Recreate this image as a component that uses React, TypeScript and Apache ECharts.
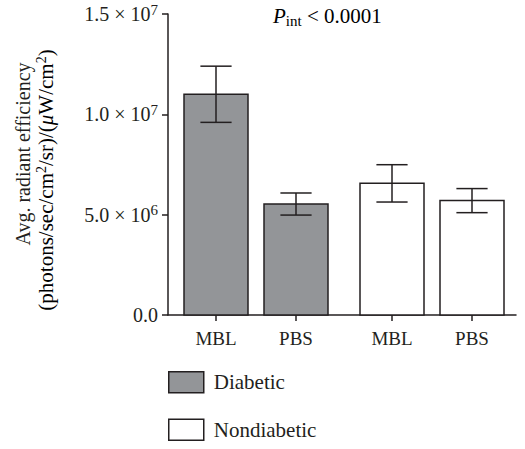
import React, { useEffect, useRef } from "react";
import * as echarts from "echarts";

const categories = ["MBL", "PBS", "MBL", "PBS"];
const groups = ["Diabetic", "Nondiabetic"];
// slot positions on the x axis (gap between the two groups)
const slots = [1, 2, 3.2, 4.2];
const diabeticMeans = [1.1e7, 5.53e6];
const diabeticErrors = [1.4e6, 0.55e6];
const nondiabeticMeans = [6.56e6, 5.7e6];
const nondiabeticErrors = [0.93e6, 0.6e6];
const yTicks = [0, 5e6, 1e7, 1.5e7];

const FONT = "Liberation Serif";
const INK = "#231f20";
const GRAY = "#939598";

function fmtY(v: number): string {
  if (v === 0) return "{a|0.0}";
  const exp = Math.floor(Math.log10(v));
  const mant = (v / Math.pow(10, exp)).toFixed(1);
  return `{a|${mant} × 10}{s|${exp}}`;
}

function makeRender(color: string) {
  return (params: any, api: any) => {
    const x = api.value(0);
    const mean = api.value(1);
    const err = api.value(2);
    const top = api.coord([x, mean]);
    const base = api.coord([x, 0]);
    const w = api.size([0.8, 0])[0];
    const cap = api.size([0.39, 0])[0];
    const hi = api.coord([x, mean + err]);
    const lo = api.coord([x, mean - err]);
    const lineStyle = { stroke: INK, lineWidth: 1.5 };
    return {
      type: "group",
      children: [
        {
          type: "rect",
          shape: { x: top[0] - w / 2, y: top[1], width: w, height: base[1] - top[1] },
          style: { fill: color, stroke: INK, lineWidth: 1.5 },
        },
        { type: "line", shape: { x1: hi[0], y1: hi[1], x2: lo[0], y2: lo[1] }, style: lineStyle },
        { type: "line", shape: { x1: hi[0] - cap / 2, y1: hi[1], x2: hi[0] + cap / 2, y2: hi[1] }, style: lineStyle },
        { type: "line", shape: { x1: lo[0] - cap / 2, y1: lo[1], x2: lo[0] + cap / 2, y2: lo[1] }, style: lineStyle },
      ],
    };
  };
}

export default function App() {
  const ref = useRef<HTMLDivElement>(null);
  useEffect(() => {
    if (!ref.current) return;
    const chart = echarts.init(ref.current, null, { renderer: "svg" });
    const diabeticData = diabeticMeans.map((m, i) => [slots[i], m, diabeticErrors[i]]);
    const nondiabeticData = nondiabeticMeans.map((m, i) => [slots[i + 2], m, nondiabeticErrors[i]]);
    const supRich = {
      a: { fontFamily: FONT, fontSize: 20, color: INK, lineHeight: 24 },
      s: { fontFamily: FONT, fontSize: 15, color: INK, lineHeight: 15, verticalAlign: "top" },
    };
    chart.setOption({
      animation: false,
      backgroundColor: "#ffffff",
      textStyle: { fontFamily: FONT },
      grid: { left: 168, right: 9, top: 14, bottom: 134 },
      xAxis: {
        type: "value",
        min: 0.4,
        max: 4.75,
        splitLine: { show: false },
        axisLine: { show: true, lineStyle: { color: INK, width: 1.5 } },
        axisTick: {
          show: true,
          length: 6,
          customValues: slots,
          lineStyle: { color: INK, width: 1.5 },
        },
        axisLabel: {
          customValues: slots,
          margin: 14,
          fontFamily: FONT,
          fontSize: 19,
          color: INK,
          formatter: (v: number) => {
            const idx = slots.findIndex((s) => Math.abs(s - v) < 1e-6);
            return idx >= 0 ? categories[idx] : "";
          },
        },
      },
      yAxis: {
        type: "value",
        min: 0,
        max: 1.5e7,
        interval: 5e6,
        splitLine: { show: false },
        axisLine: { show: true, lineStyle: { color: INK, width: 1.5 } },
        axisTick: { show: true, length: 6, lineStyle: { color: INK, width: 1.5 } },
        axisLabel: {
          margin: 10,
          formatter: (v: number) => (yTicks.includes(v) ? fmtY(v) : ""),
          rich: supRich,
        },
      },
      legend: {
        show: true,
        orient: "vertical",
        left: 163,
        top: 366,
        itemWidth: 35,
        itemHeight: 21,
        itemGap: 25,
        textStyle: { fontFamily: FONT, fontSize: 21, color: INK, padding: [2, 0, 0, 5] },
        data: [
          { name: groups[0], icon: "rect", itemStyle: { color: GRAY, borderColor: INK, borderWidth: 1.5 } },
          { name: groups[1], icon: "rect", itemStyle: { color: "#ffffff", borderColor: INK, borderWidth: 1.5 } },
        ],
      },
      graphic: [
        {
          type: "text",
          x: 273,
          y: 16,
          style: {
            text: "{p|P}{sub|int}{t| < 0.0001}",
            verticalAlign: "middle",
            rich: {
              p: { fontFamily: FONT, fontSize: 21, fontStyle: "italic", color: INK, lineHeight: 24 },
              sub: { fontFamily: FONT, fontSize: 15, color: INK, lineHeight: 15, verticalAlign: "bottom" },
              t: { fontFamily: FONT, fontSize: 21, color: INK, lineHeight: 24 },
            },
          },
        },
        {
          type: "text",
          x: 23,
          y: 154,
          rotation: Math.PI / 2,
          style: {
            text: "Avg. radiant efficiency",
            fontFamily: FONT,
            fontSize: 20,
            fill: INK,
            align: "center",
            verticalAlign: "middle",
          },
        },
        {
          type: "text",
          x: 46,
          y: 180,
          rotation: Math.PI / 2,
          style: {
            text: "{a|(photons/sec/cm}{s|2}{a|/sr)/(}{i|μ}{a|W/cm}{s|2}{a|)}",
            align: "center",
            verticalAlign: "middle",
            rich: {
              a: { fontFamily: FONT, fontSize: 21, color: INK, lineHeight: 24 },
              s: { fontFamily: FONT, fontSize: 14, color: INK, lineHeight: 14, verticalAlign: "top" },
              i: { fontFamily: FONT, fontSize: 21, color: INK, lineHeight: 24, fontStyle: "italic" },
            },
          },
        },
      ],
      series: [
        {
          name: groups[0],
          type: "custom",
          itemStyle: { color: GRAY },
          renderItem: makeRender(GRAY),
          data: diabeticData,
          encode: { x: 0, y: 1 },
        },
        {
          name: groups[1],
          type: "custom",
          itemStyle: { color: "#ffffff" },
          renderItem: makeRender("#ffffff"),
          data: nondiabeticData,
          encode: { x: 0, y: 1 },
        },
      ],
    });
    return () => chart.dispose();
  }, []);
  return <div ref={ref} style={{ width: 525, height: 449, position: "absolute", left: 0, top: 0 }} />;
}
